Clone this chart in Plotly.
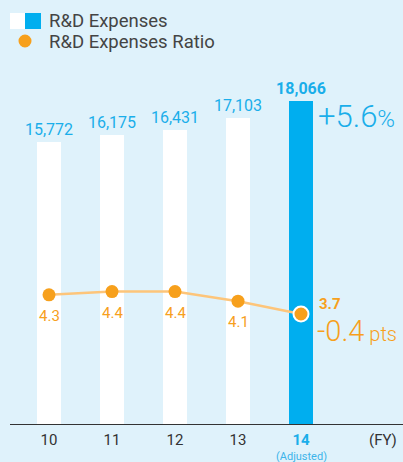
import plotly.graph_objects as go

# ---- data ----
years = ["10", "11", "12", "13", "14"]
rd_expenses = [15772, 16175, 16431, 17103, 18066]
rd_ratio = [4.3, 4.4, 4.4, 4.1, 3.7]
growth_label = "+5.6"
ratio_change_label = "-0.4"

W, H = 403, 462
ML, MR, MT, MB = 10, 0, 60, 38
PW, PH = W - ML - MR, H - MT - MB

BG = "#dff2fb"
BLUE = "#00aeef"
BLUE_TXT = "#1aaeea"
ORANGE = "#f7a01c"
LINE_OR = "#fdc57a"
GRAY = "#444444"
FONT = "Roboto"

xs = list(range(len(years)))
bar_colors = ["#ffffff"] * (len(years) - 1) + [BLUE]
bar_text = [f"{v:,}" for v in rd_expenses]
bar_text[-1] = f"<b>{bar_text[-1]}</b>"

fig = go.Figure()
fig.add_trace(go.Bar(
    x=xs, y=rd_expenses, width=0.381, marker=dict(color=bar_colors, line=dict(width=0)),
    text=bar_text, textposition="outside", cliponaxis=False, constraintext="none",
    textfont=dict(color=BLUE_TXT, size=16, family=FONT), hoverinfo="skip",
    showlegend=False,
))
fig.add_trace(go.Scatter(
    x=xs, y=rd_ratio, yaxis="y2", mode="lines+markers",
    line=dict(color=LINE_OR, width=2.5),
    marker=dict(color=ORANGE, size=[13, 13, 13, 13, 15], opacity=1,
                line=dict(color="#ffffff", width=[0, 0, 0, 0, 2])),
    cliponaxis=False, showlegend=False, hoverinfo="skip",
))

annotations = []
for i, r in enumerate(rd_ratio[:-1]):
    annotations.append(dict(x=xs[i], y=r, xref="x", yref="y2", text=f"{r}",
                            showarrow=False, yshift=-21,
                            font=dict(color=ORANGE, size=15, family=FONT)))
annotations.append(dict(x=xs[-1], y=rd_ratio[-1], xref="x", yref="y2",
                        text=f"<b>{rd_ratio[-1]}</b>", showarrow=False,
                        xanchor="left", xshift=16, yshift=10,
                        font=dict(color=ORANGE, size=15, family=FONT)))
annotations.append(dict(x=xs[-1], y=rd_expenses[-1], xref="x", yref="y",
                        text=f"{growth_label}<span style='font-size:24px'>%</span>",
                        showarrow=False, xanchor="left", xshift=15, yanchor="middle", yshift=-16,
                        font=dict(color=BLUE_TXT, size=31, family=FONT, weight=300)))
annotations.append(dict(x=xs[-1], y=rd_ratio[-1], xref="x", yref="y2",
                        text=f"{ratio_change_label}<span style='font-size:20px'> pts</span>",
                        showarrow=False, xanchor="left", xshift=14, yanchor="middle", yshift=-17,
                        font=dict(color=ORANGE, size=29, family=FONT, weight=300)))


def px_x(p):
    return (p - ML) / PW


def px_y(p):
    return 1 - (p - MT) / PH


# "(Adjusted)" note under the last category
annotations.append(dict(x=xs[-1], y=px_y(456.5), xref="x", yref="paper", text="(Adjusted)",
                        showarrow=False, yanchor="middle",
                        font=dict(color="#3db4ea", size=11, family=FONT)))

# legend
shapes = [
    dict(type="rect", xref="paper", yref="paper", x0=px_x(10), x1=px_x(25),
         y0=px_y(29), y1=px_y(13), fillcolor="#ffffff", line=dict(width=0)),
    dict(type="rect", xref="paper", yref="paper", x0=px_x(25), x1=px_x(41),
         y0=px_y(29), y1=px_y(13), fillcolor=BLUE, line=dict(width=0)),
    dict(type="circle", xref="paper", yref="paper", x0=px_x(18.5), x1=px_x(31.5),
         y0=px_y(47.5), y1=px_y(34.5), fillcolor=ORANGE, line=dict(width=0)),
]
annotations.append(dict(xref="paper", yref="paper", x=px_x(47), y=px_y(21), xanchor="left",
                        yanchor="middle", text="R&D Expenses", showarrow=False,
                        font=dict(color=GRAY, size=18.5, family=FONT)))
annotations.append(dict(xref="paper", yref="paper", x=px_x(47), y=px_y(42), xanchor="left",
                        yanchor="middle", text="R&D Expenses Ratio", showarrow=False,
                        font=dict(color=GRAY, size=18.5, family=FONT)))

tickvals = xs + [5.3]
ticktext = years[:-1] + [f"<span style='color:{BLUE_TXT}'><b>{years[-1]}</b></span>", "(FY)"]

y_top = PH / 0.01788
fig.update_layout(
    width=W, height=H, margin=dict(l=ML, r=MR, t=MT, b=MB),
    paper_bgcolor=BG, plot_bgcolor=BG,
    font=dict(family=FONT),
    xaxis=dict(range=[-0.619, 5.619], tickvals=tickvals, ticktext=ticktext,
               showgrid=False, zeroline=False, showline=True, linecolor="#333333",
               linewidth=1, ticks="", tickfont=dict(color="#333333", size=15, family=FONT),
               ticklabelstandoff=2, fixedrange=True, automargin=False),
    yaxis=dict(range=[0, y_top], visible=False, showgrid=False, fixedrange=True,
               automargin=False),
    yaxis2=dict(range=[0.2625, 0.2625 + PH / 32], overlaying="y", visible=False,
                showgrid=False, fixedrange=True, automargin=False),
    shapes=shapes, annotations=annotations, bargap=0,
)

fig.write_html("out.html", config={"displayModeBar": False},
               post_script="document.body.style.margin='0';document.body.style.overflow='hidden';")
